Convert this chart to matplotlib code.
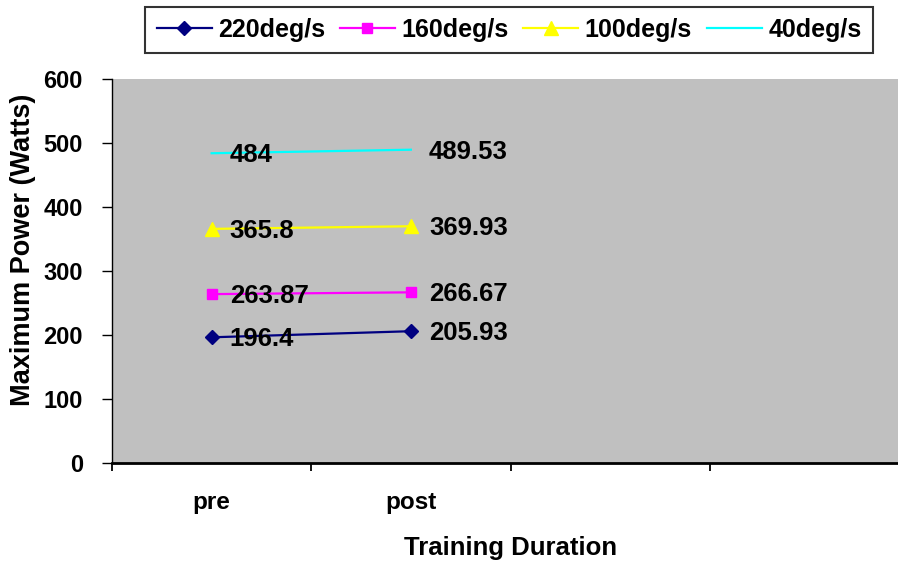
import matplotlib
matplotlib.use("Agg")
import matplotlib.pyplot as plt

plt.rcParams['font.family'] = ['Liberation Sans', 'DejaVu Sans']
plt.rcParams['font.weight'] = 'bold'

# data
categories = ['pre', 'post']
series_names = ['220deg/s', '160deg/s', '100deg/s', '40deg/s']
v220 = [196.4, 205.93]
v160 = [263.87, 266.67]
v100 = [365.8, 369.93]
v40 = [484, 489.53]

colors = ['#000080', '#FF00FF', '#FFFF00', '#00FFFF']
markers = ['D', 's', '^', None]
msizes = [7, 7.5, 10, 0]

fig = plt.figure(figsize=(8.98, 5.64), dpi=100)
# plot area runs a bit past the right edge, like the original
ax = fig.add_axes([112/898, 1 - 463/564, 797/898, 384/564])
ax.set_facecolor('#C0C0C0')

xpos = [0.5, 1.5]
for vals, name, c, m, ms in zip([v220, v160, v100, v40], series_names, colors, markers, msizes):
    ax.plot(xpos, vals, color=c, lw=1.6, marker=m, markersize=ms,
            markeredgecolor=c, markerfacecolor=c, label=name)
    for x, v in zip(xpos, vals):
        ax.annotate(f'{v:g}', xy=(x, v), xytext=(13, -1.5), textcoords='offset points',
                    ha='left', va='center', fontsize=18.5, fontweight='bold', color='black')

ax.set_xlim(0, 4)
ax.set_ylim(0, 600)
ax.set_yticks(range(0, 601, 100))
ax.set_xticks([0, 1, 2, 3, 4])
ax.set_xticklabels([])
ax.set_xticks(xpos, minor=True)
ax.set_xticklabels(categories, minor=True)

ax.tick_params(axis='y', direction='out', length=7, width=1, pad=14, labelsize=17)
ax.tick_params(axis='x', which='major', direction='out', length=6, width=1.3)
ax.tick_params(axis='x', which='minor', length=0, pad=20, labelsize=17.5)

for s in ['top', 'right']:
    ax.spines[s].set_visible(False)
ax.spines['left'].set_linewidth(1)
ax.spines['bottom'].set_linewidth(2)

ax.set_xlabel('Training Duration', fontsize=18.5, fontweight='bold')
ax.xaxis.set_label_coords((511 - 112) / 797, -0.19)
ax.set_ylabel('Maximum Power (Watts)', fontsize=19.5, fontweight='bold')
ax.yaxis.set_label_coords((36 - 112) / 797, 0.555)

leg = fig.legend(loc='center', bbox_to_anchor=(509/898, 1 - 30/564), ncol=4,
                 fontsize=18, frameon=True, fancybox=False, edgecolor='black',
                 handlelength=2.2, handletextpad=0.25, columnspacing=0.6,
                 borderpad=0.45, borderaxespad=0)
leg.get_frame().set_linewidth(1.5)

fig.savefig('out.png', dpi=100)
